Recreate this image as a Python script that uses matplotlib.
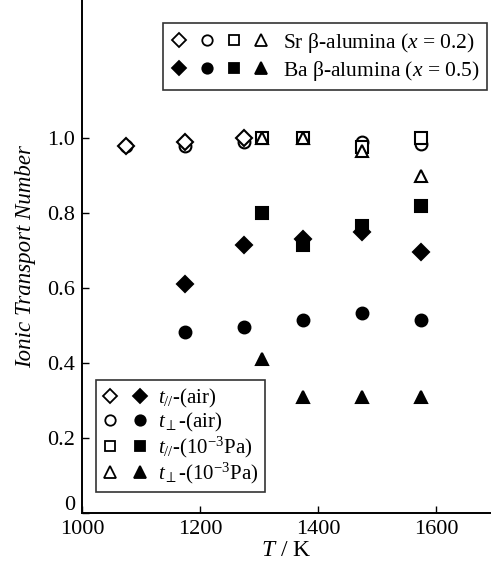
import matplotlib
matplotlib.use("Agg")
import matplotlib.pyplot as plt
import matplotlib.transforms as mtrans
from matplotlib.lines import Line2D
from matplotlib.legend_handler import HandlerTuple

plt.rcParams['font.family'] = ['Liberation Serif', 'DejaVu Serif']
plt.rcParams['mathtext.fontset'] = 'custom'
plt.rcParams['mathtext.rm'] = 'Liberation Serif'
plt.rcParams['mathtext.it'] = 'Liberation Serif:italic'
plt.rcParams['mathtext.fallback'] = 'stix'

# Sr beta-alumina (open symbols)
sr_par_air_T = [1075, 1175, 1275]
sr_par_air = [0.98, 0.99, 1.00]
sr_perp_air_T = [1075, 1175, 1275, 1475, 1575]
sr_perp_air = [0.98, 0.98, 0.99, 0.99, 0.985]
sr_par_vac_T = [1305, 1375, 1475, 1575]
sr_par_vac = [1.00, 1.00, 0.975, 1.00]
sr_perp_vac_T = [1305, 1375, 1475, 1575]
sr_perp_vac = [1.00, 1.00, 0.965, 0.90]

# Ba beta-alumina (filled symbols)
ba_par_air_T = [1175, 1275, 1375, 1475, 1575]
ba_par_air = [0.61, 0.715, 0.73, 0.75, 0.695]
ba_perp_air_T = [1175, 1275, 1375, 1475, 1575]
ba_perp_air = [0.483, 0.495, 0.515, 0.533, 0.515]
ba_par_vac_T = [1305, 1375, 1475, 1575]
ba_par_vac = [0.80, 0.715, 0.765, 0.82]
ba_perp_vac_T = [1305, 1375, 1475, 1575]
ba_perp_vac = [0.41, 0.31, 0.31, 0.31]

xticks = [1000, 1200, 1400, 1600]
yticks = [0, 0.2, 0.4, 0.6, 0.8, 1.0]
ytick_labels = ['0', '0.2', '0.4', '0.6', '0.8', '1.0']

fig = plt.figure(figsize=(4.91, 5.65), dpi=100)
ax = fig.add_axes([0.167, 0.092, 0.833, 0.908])

ms = {'D': 8, 'o': 8.5, 's': 8.5, '^': 9}
def plot(T, v, m, filled):
    ax.plot(T, v, linestyle='none', marker=m, markersize=ms[m],
            markerfacecolor='black' if filled else 'white',
            markeredgecolor='black', markeredgewidth=1.5, clip_on=False)

plot(sr_perp_air_T, sr_perp_air, 'o', False)
plot(sr_par_air_T, sr_par_air, 'D', False)
plot(sr_par_vac_T, sr_par_vac, 's', False)
plot(sr_perp_vac_T, sr_perp_vac, '^', False)
plot(ba_par_air_T, ba_par_air, 'D', True)
plot(ba_perp_air_T, ba_perp_air, 'o', True)
plot(ba_par_vac_T, ba_par_vac, 's', True)
plot(ba_perp_vac_T, ba_perp_vac, '^', True)

ax.set_xlim(1000, 1693)
ax.set_ylim(0, 1.368)
ax.set_xticks(xticks)
ax.set_yticks(yticks)
ax.set_yticklabels(ytick_labels)
ax.tick_params(direction='in', labelsize=16, length=5, width=1)
ax.tick_params(axis='x', pad=5)
ax.tick_params(axis='y', pad=5)
ax.spines['top'].set_visible(False)
ax.spines['right'].set_visible(False)
for s in ['left', 'bottom']:
    ax.spines[s].set_linewidth(1.4)

# lift the y "0" label above the corner, as in the reference
zero_lbl = ax.get_yticklabels()[0]
zero_lbl.set_transform(zero_lbl.get_transform() +
                       mtrans.ScaledTranslation(0, 7 / 72, fig.dpi_scale_trans))

ax.set_xlabel('$T$ / K', fontsize=17, labelpad=1)
ax.set_ylabel('Ionic Transport Number', fontsize=16.5, style='italic', labelpad=8)

def mk(m, filled):
    return Line2D([], [], linestyle='none', marker=m, markersize=ms[m] - 1,
                  markerfacecolor='black' if filled else 'white',
                  markeredgecolor='black', markeredgewidth=1.3)

top_handles = [tuple(mk(m, False) for m in ['D', 'o', 's', '^']),
               tuple(mk(m, True) for m in ['D', 'o', 's', '^'])]
top_labels = [r'Sr $\mathrm{\beta}$-alumina ($x$ = 0.2)',
              r'Ba $\mathrm{\beta}$-alumina ($x$ = 0.5)']
leg1 = ax.legend(top_handles, top_labels,
                 handler_map={tuple: HandlerTuple(ndivide=None, pad=0.5)},
                 loc='upper right', bbox_to_anchor=(0.99, 0.955),
                 handlelength=4.6, fontsize=15.5, frameon=True, fancybox=False,
                 edgecolor='black', borderpad=0.35, labelspacing=0.2,
                 handletextpad=0.6, borderaxespad=0)
leg1.get_frame().set_linewidth(1.2)
ax.add_artist(leg1)

bot_handles = [(mk('D', False), mk('D', True)),
               (mk('o', False), mk('o', True)),
               (mk('s', False), mk('s', True)),
               (mk('^', False), mk('^', True))]
bot_labels = [r'$t_{//}$-(air)', r'$t_{\perp}$-(air)',
              r'$t_{//}$-(10$^{-3}$Pa)', r'$t_{\perp}$-(10$^{-3}$Pa)']
leg2 = ax.legend(bot_handles, bot_labels,
                 handler_map={tuple: HandlerTuple(ndivide=None, pad=0.6)},
                 loc='lower left', bbox_to_anchor=(0.034, 0.04),
                 handlelength=2.2, fontsize=15, frameon=True, fancybox=False,
                 edgecolor='black', borderpad=0.3, labelspacing=0.05,
                 handletextpad=0.5, borderaxespad=0)
leg2.get_frame().set_linewidth(1.2)

fig.savefig('out.png', dpi=100)
